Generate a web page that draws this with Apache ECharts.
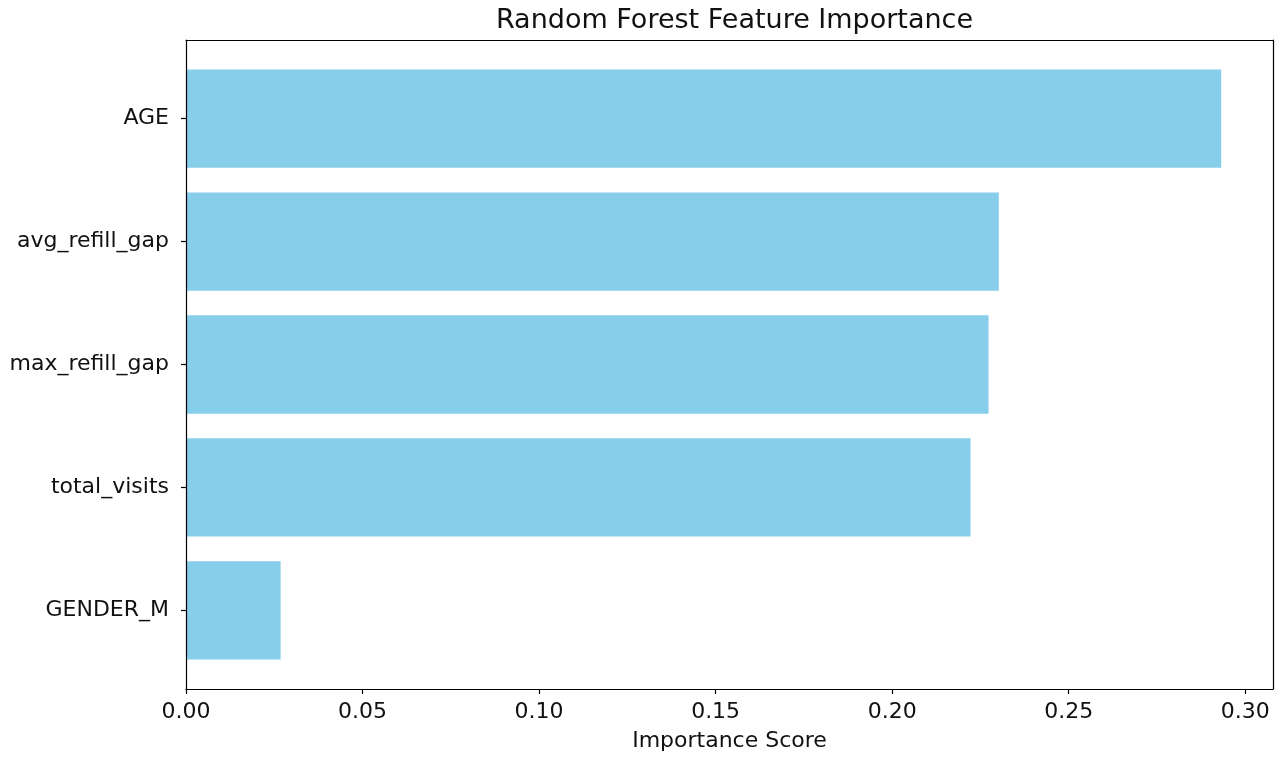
<!DOCTYPE html>
<html>
<head>
<meta charset="utf-8">
<script src="https://cdn.jsdelivr.net/npm/echarts@6/dist/echarts.min.js"></script>
<style>
html,body{margin:0;padding:0;background:#fff;}
#chart{width:1280px;height:762px;}
</style>
</head>
<body>
<div id="chart"></div>
<script>
const titleText = 'Random Forest Feature Importance';
const xAxisTitle = 'Importance Score';
const features = ['AGE', 'avg_refill_gap', 'max_refill_gap', 'total_visits', 'GENDER_M'];
const importance = [0.2932, 0.2302, 0.2273, 0.2222, 0.0268];
const xTickInterval = 0.05;

const xMax = Math.max(...importance) * 1.05;
const FONT = 'DejaVu Sans';

const chart = echarts.init(document.getElementById('chart'), null, {renderer: 'canvas'});
const frameLine = {show: true, onZero: false, lineStyle: {color: '#000', width: 1.2}};

const option = {
  backgroundColor: '#fff',
  animation: false,
  title: {
    text: titleText,
    left: 729.5,
    textAlign: 'center',
    top: 2,
    textStyle: {fontFamily: FONT, fontSize: 27, fontWeight: 'normal', color: '#111'}
  },
  grid: [
    {left: 186, right: 7, top: 40, bottom: 73},
    {left: 186, right: 7, top: 57.2, bottom: 90.2}
  ],
  xAxis: [
    {
      type: 'value', gridIndex: 0, min: 0, max: xMax, interval: xTickInterval,
      position: 'bottom', z: 10,
      axisLine: frameLine,
      axisTick: {show: true, length: 5, lineStyle: {color: '#000', width: 1.2}},
      axisLabel: {show: true, margin: 12, fontFamily: FONT, fontSize: 22, color: '#111',
        showMaxLabel: false,
        formatter: v => v.toFixed(2)},
      splitLine: {show: false},
      name: xAxisTitle, nameLocation: 'middle', nameGap: 41,
      nameTextStyle: {fontFamily: FONT, fontSize: 22, color: '#111'}
    },
    {
      type: 'value', gridIndex: 0, min: 0, max: xMax, position: 'top', z: 10,
      axisLine: frameLine, axisTick: {show: false}, axisLabel: {show: false}, splitLine: {show: false}
    },
    {
      type: 'value', gridIndex: 1, min: 0, max: xMax, show: false
    }
  ],
  yAxis: [
    {
      type: 'value', gridIndex: 0, min: 0, max: 1, position: 'left', z: 10,
      axisLine: frameLine, axisTick: {show: false}, axisLabel: {show: false}, splitLine: {show: false}
    },
    {
      type: 'value', gridIndex: 0, min: 0, max: 1, position: 'right', z: 10,
      axisLine: frameLine, axisTick: {show: false}, axisLabel: {show: false}, splitLine: {show: false}
    },
    {
      type: 'category', gridIndex: 1, data: features, inverse: true,
      axisLine: {show: false},
      axisTick: {show: true, alignWithLabel: true, length: 5, lineStyle: {color: '#000', width: 1.2}},
      axisLabel: {margin: 17, fontFamily: FONT, fontSize: 22, color: '#111'},
      splitLine: {show: false}
    }
  ],
  series: [{
    type: 'bar',
    xAxisIndex: 2,
    yAxisIndex: 2,
    data: importance,
    barWidth: '80%',
    itemStyle: {color: '#87CEEB'}
  }]
};
chart.setOption(option);
</script>
</body>
</html>
